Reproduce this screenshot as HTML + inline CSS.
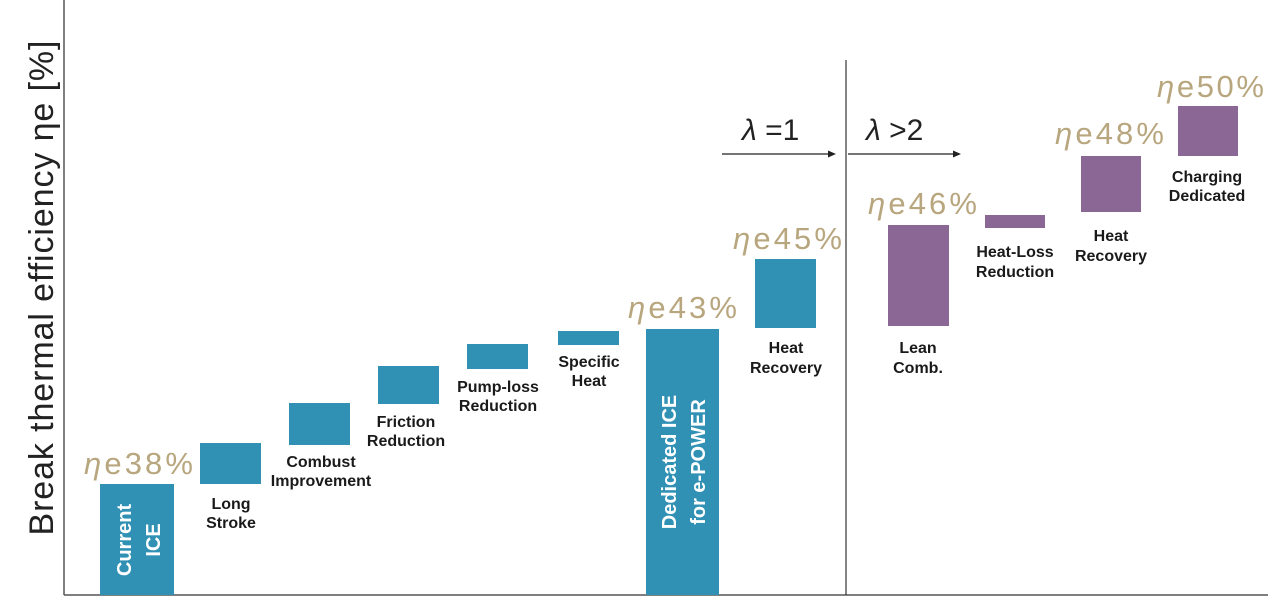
<!DOCTYPE html>
<html><head><meta charset="utf-8"><style>
html,body{margin:0;padding:0;background:#fff;}
svg{display:block;}
.l{font-family:"Liberation Sans",sans-serif;font-weight:bold;font-size:16px;fill:#1a1a1a;text-anchor:middle;}
.g{font-family:"Liberation Sans",sans-serif;font-size:31px;fill:#b8a67e;letter-spacing:1px;}
.w{font-family:"Liberation Sans",sans-serif;font-weight:bold;font-size:20px;fill:#fff;text-anchor:middle;}
</style></head><body>
<svg width="1279" height="613" viewBox="0 0 1279 613" xmlns="http://www.w3.org/2000/svg">
<line x1="64" y1="0" x2="64" y2="595" stroke="#555" stroke-width="1.5"/>
<line x1="64" y1="595" x2="1268" y2="595" stroke="#555" stroke-width="1.5"/>
<line x1="846" y1="60" x2="846" y2="595" stroke="#333" stroke-width="1.2"/>
<text transform="translate(53,288) rotate(-90)" text-anchor="middle" font-family="Liberation Sans,sans-serif" font-size="34" fill="#222" textLength="495" lengthAdjust="spacing">Break thermal efficiency ηe [%]</text>
<g fill="#3091b5">
<rect x="100" y="484" width="74" height="111"/>
<rect x="200" y="443" width="61" height="41"/>
<rect x="289" y="403" width="61" height="42"/>
<rect x="378" y="366" width="61" height="38"/>
<rect x="467" y="344" width="61" height="25"/>
<rect x="558" y="331" width="61" height="14"/>
<rect x="646" y="329" width="73" height="266"/>
<rect x="755" y="259" width="61" height="69"/>
</g>
<g fill="#8b6795">
<rect x="888" y="225" width="61" height="101"/>
<rect x="985" y="215" width="60" height="13"/>
<rect x="1081" y="156" width="60" height="56"/>
<rect x="1178" y="106" width="60" height="50"/>
</g>
<text class="w" transform="translate(131,540) rotate(-90)">Current</text>
<text class="w" transform="translate(160,540) rotate(-90)">ICE</text>
<text class="w" transform="translate(676,462) rotate(-90)">Dedicated ICE</text>
<text class="w" transform="translate(705,462) rotate(-90)">for e-POWER</text>
<text class="l" x="231" y="509">Long</text><text class="l" x="231" y="528">Stroke</text>
<text class="l" x="321" y="467">Combust</text><text class="l" x="321" y="486">Improvement</text>
<text class="l" x="406" y="427">Friction</text><text class="l" x="406" y="446">Reduction</text>
<text class="l" x="498" y="392">Pump-loss</text><text class="l" x="498" y="411">Reduction</text>
<text class="l" x="589" y="367">Specific</text><text class="l" x="589" y="386">Heat</text>
<text class="l" x="786" y="353">Heat</text><text class="l" x="786" y="373">Recovery</text>
<text class="l" x="918" y="353">Lean</text><text class="l" x="918" y="373">Comb.</text>
<text class="l" x="1015" y="257">Heat-Loss</text><text class="l" x="1015" y="277">Reduction</text>
<text class="l" x="1111" y="241">Heat</text><text class="l" x="1111" y="261">Recovery</text>
<text class="l" x="1207" y="182">Charging</text><text class="l" x="1207" y="201">Dedicated</text>
<text class="g" x="84" y="474" textLength="110"><tspan font-style="italic">η</tspan>e38%</text>
<text class="g" x="628" y="318" textLength="110"><tspan font-style="italic">η</tspan>e43%</text>
<text class="g" x="733" y="249" textLength="110"><tspan font-style="italic">η</tspan>e45%</text>
<text class="g" x="868" y="214" textLength="110"><tspan font-style="italic">η</tspan>e46%</text>
<text class="g" x="1055" y="144" textLength="110"><tspan font-style="italic">η</tspan>e48%</text>
<text class="g" x="1157" y="97" textLength="108"><tspan font-style="italic">η</tspan>e50%</text>
<text x="742" y="140" font-family="Liberation Sans,sans-serif" font-size="30" fill="#222"><tspan font-style="italic">λ</tspan> =1</text>
<text x="866" y="140" font-family="Liberation Sans,sans-serif" font-size="30" fill="#222"><tspan font-style="italic">λ</tspan> &gt;2</text>
<line x1="722" y1="154" x2="830" y2="154" stroke="#222" stroke-width="1.3"/>
<polygon points="836,154 828,150.5 828,157.5" fill="#222"/>
<line x1="848" y1="154" x2="955" y2="154" stroke="#222" stroke-width="1.3"/>
<polygon points="961,154 953,150.5 953,157.5" fill="#222"/>
</svg>
</body></html>
